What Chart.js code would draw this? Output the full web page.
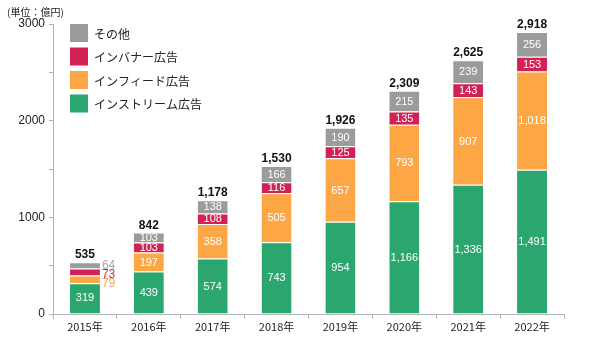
<!DOCTYPE html>
<html>
<head>
<meta charset="utf-8">
<script src="https://cdn.jsdelivr.net/npm/chart.js@4"></script>
<style>
  html, body { margin: 0; padding: 0; background: #fff; }
  #wrap { width: 600px; height: 339px; position: relative; }
</style>
</head>
<body>
<div id="wrap"><canvas id="chart"></canvas></div>
<script>
const years = ["2015年", "2016年", "2017年", "2018年", "2019年", "2020年", "2021年", "2022年"];
const inStream = [319, 439, 574, 743, 954, 1166, 1336, 1491];
const inFeed = [79, 197, 358, 505, 657, 793, 907, 1018];
const inBanner = [73, 103, 108, 116, 125, 135, 143, 153];
const others = [64, 103, 138, 166, 190, 215, 239, 256];
const totals = [535, 842, 1178, 1530, 1926, 2309, 2625, 2918];
const yTicks = [0, 1000, 2000, 3000];

const FONT = "'Liberation Sans', Arial, 'Noto Sans CJK JP', sans-serif";
const JP = "'Noto Sans CJK JP', 'Liberation Sans', sans-serif";

const colors = {
  stream: "#2ba66f",
  feed: "#fda646",
  banner: "#d22155",
  other: "#9b9b9b",
};

function fmt(v) {
  return v.toLocaleString("en-US");
}

// draws numbers inside segments, totals on top, legend and unit label
const labelPlugin = {
  id: "labels",
  afterDatasetsDraw(chart) {
    const ctx = chart.ctx;
    ctx.save();
    ctx.textAlign = "center";
    ctx.textBaseline = "middle";
    ctx.font = "11px " + FONT;

    const n = chart.data.labels.length;
    for (let i = 0; i < n; i++) {
      if (i === 0) {
        // small bar: labels outside to the right, top to bottom
        let prevY = -Infinity;
        const side = [];
        for (let d = chart.data.datasets.length - 1; d >= 1; d--) {
          const el = chart.getDatasetMeta(d).data[i];
          let y = (el.y + el.base) / 2;
          y = Math.max(y, prevY + 9);
          prevY = y;
          side.push({ x: el.x + el.width / 2 + 2, y, v: chart.data.datasets[d].data[i], c: chart.data.datasets[d].labelColor });
        }
        ctx.textAlign = "left";
        ctx.font = "12px " + FONT;
        side.forEach(s => {
          ctx.fillStyle = s.c;
          ctx.fillText(s.v, s.x, s.y);
        });
        ctx.font = "11px " + FONT;
        ctx.textAlign = "center";
        const el0 = chart.getDatasetMeta(0).data[i];
        ctx.fillStyle = "#fff";
        ctx.fillText(fmt(chart.data.datasets[0].data[i]), el0.x, (el0.y + el0.base) / 2);
      } else {
        chart.data.datasets.forEach((ds, d) => {
          const el = chart.getDatasetMeta(d).data[i];
          ctx.fillStyle = "#fff";
          ctx.fillText(fmt(ds.data[i]), el.x, (el.y + el.base) / 2 + 0.5);
        });
      }
      // total
      const top = chart.getDatasetMeta(chart.data.datasets.length - 1).data[i];
      ctx.fillStyle = "#111";
      ctx.font = "bold 12px " + FONT;
      ctx.textBaseline = "alphabetic";
      ctx.fillText(fmt(totals[i]), top.x, top.y - 4);
      ctx.font = "11px " + FONT;
      ctx.textBaseline = "middle";
    }

    // legend
    const lx = 70, ly = 24, box = 18, gap = 23.5;
    const items = chart.data.datasets.slice().reverse();
    ctx.textAlign = "left";
    ctx.font = "12px " + JP;
    items.forEach((ds, k) => {
      const y = ly + k * gap;
      ctx.fillStyle = ds.backgroundColor;
      ctx.fillRect(lx, y, box, box);
      ctx.fillStyle = "#222";
      ctx.fillText(ds.label, lx + 24, y + box / 2 + 1);
    });

    // unit
    ctx.font = "10px " + JP;
    ctx.fillStyle = "#222";
    ctx.fillText("(単位：億円)", 7, 12);
    ctx.restore();
  },
};

new Chart(document.getElementById("chart"), {
  type: "bar",
  data: {
    labels: years,
    datasets: [
      { label: "インストリーム広告", data: inStream, backgroundColor: colors.stream, labelColor: colors.stream },
      { label: "インフィード広告", data: inFeed, backgroundColor: colors.feed, labelColor: colors.feed },
      { label: "インバナー広告", data: inBanner, backgroundColor: colors.banner, labelColor: colors.banner },
      { label: "その他", data: others, backgroundColor: colors.other, labelColor: "#aaaaaa" },
    ].map(ds => Object.assign(ds, {
      borderColor: "#ffffff",
      borderWidth: { top: 1, left: 0, right: 0, bottom: 0 },
      borderSkipped: false,
      barPercentage: 0.47,
      categoryPercentage: 1,
    })),
  },
  options: {
    responsive: true,
    maintainAspectRatio: false,
    animation: false,
    layout: { padding: { left: 0, right: 36, top: 24, bottom: 0 } },
    plugins: {
      legend: { display: false },
      tooltip: { enabled: false },
    },
    scales: {
      x: {
        stacked: true,
        afterFit(scale) { scale.height = 25; },
        grid: {
          offset: true,
          drawOnChartArea: false,
          drawTicks: true,
          tickLength: 5,
          color: "#b5b5b5",
        },
        border: { color: "#b5b5b5" },
        ticks: {
          color: "#222",
          font: { family: JP, size: 11 },
          padding: 1,
        },
      },
      y: {
        stacked: true,
        min: 0,
        max: 3000,
        afterFit(scale) { scale.width = 53; },
        afterBuildTicks(scale) {
          const t = [];
          for (let v = 0; v <= 3000; v += 500) t.push({ value: v });
          scale.ticks = t;
        },
        grid: {
          drawOnChartArea: false,
          tickLength: 4,
          color: "#b5b5b5",
        },
        border: { color: "#b5b5b5" },
        ticks: {
          color: "#222",
          font: { family: FONT, size: 12 },
          padding: 4,
          callback: v => (yTicks.includes(v) ? v : ""),
        },
      },
    },
  },
  plugins: [labelPlugin],
});
</script>
</body>
</html>
